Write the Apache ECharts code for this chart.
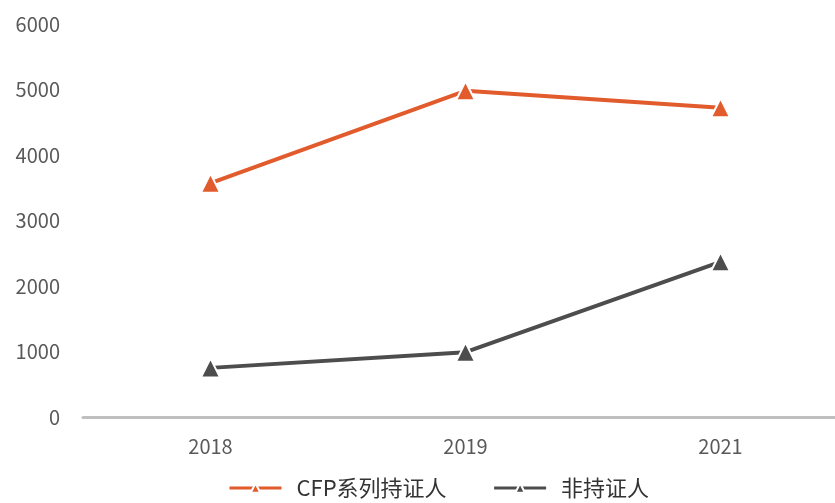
<!DOCTYPE html>
<html>
<head>
<meta charset="utf-8">
<script src="https://cdn.jsdelivr.net/npm/echarts@6/dist/echarts.min.js"></script>
<style>
  html, body { margin: 0; padding: 0; background: #fff; overflow: hidden; }
  #chart { width: 848px; height: 503px; }
</style>
</head>
<body>
<div id="chart"></div>
<script>
  const years = ['2018', '2019', '2021'];
  const cfpHolders = [3570, 4980, 4720];
  const nonHolders = [750, 990, 2370];
  const seriesNames = ['CFP系列持证人', '非持证人'];

  const font = '"Noto Sans CJK SC", "Noto Sans", sans-serif';
  const chart = echarts.init(document.getElementById('chart'));

  const lineSeries = (name, data, color) => ({
    name,
    type: 'line',
    data,
    symbol: 'triangle',
    symbolSize: 19,
    lineStyle: { color, width: 4 },
    itemStyle: { color, borderColor: '#fff', borderWidth: 2 },
    emphasis: { disabled: true },
  });

  chart.setOption({
    animation: false,
    textStyle: { fontFamily: font },
    grid: { left: 83, top: 24, right: 0, bottom: 86, containLabel: false },
    legend: {
      bottom: -1,
      left: 223,
      itemWidth: 52,
      itemHeight: 12,
      itemGap: 46,
      lineStyle: { width: 3 },
      textStyle: { fontSize: 22, color: '#333', fontFamily: font, padding: [0, 0, 0, 10] },
      data: seriesNames,
    },
    xAxis: {
      type: 'category',
      data: years,
      axisLine: { lineStyle: { color: '#BFBFBF', width: 3 } },
      axisTick: { show: false },
      axisLabel: { fontSize: 20, color: '#595959', margin: 19, fontFamily: font },
    },
    yAxis: {
      type: 'value',
      min: 0,
      max: 6000,
      interval: 1000,
      splitLine: { show: false },
      axisLine: { show: false },
      axisTick: { show: false },
      axisLabel: {
        fontSize: 20,
        color: '#595959',
        margin: 23,
        fontFamily: font,
        formatter: (v) => String(v),
      },
    },
    series: [
      lineSeries(seriesNames[0], cfpHolders, '#E15B2C'),
      lineSeries(seriesNames[1], nonHolders, '#4D4D4D'),
    ],
  });
</script>
</body>
</html>
